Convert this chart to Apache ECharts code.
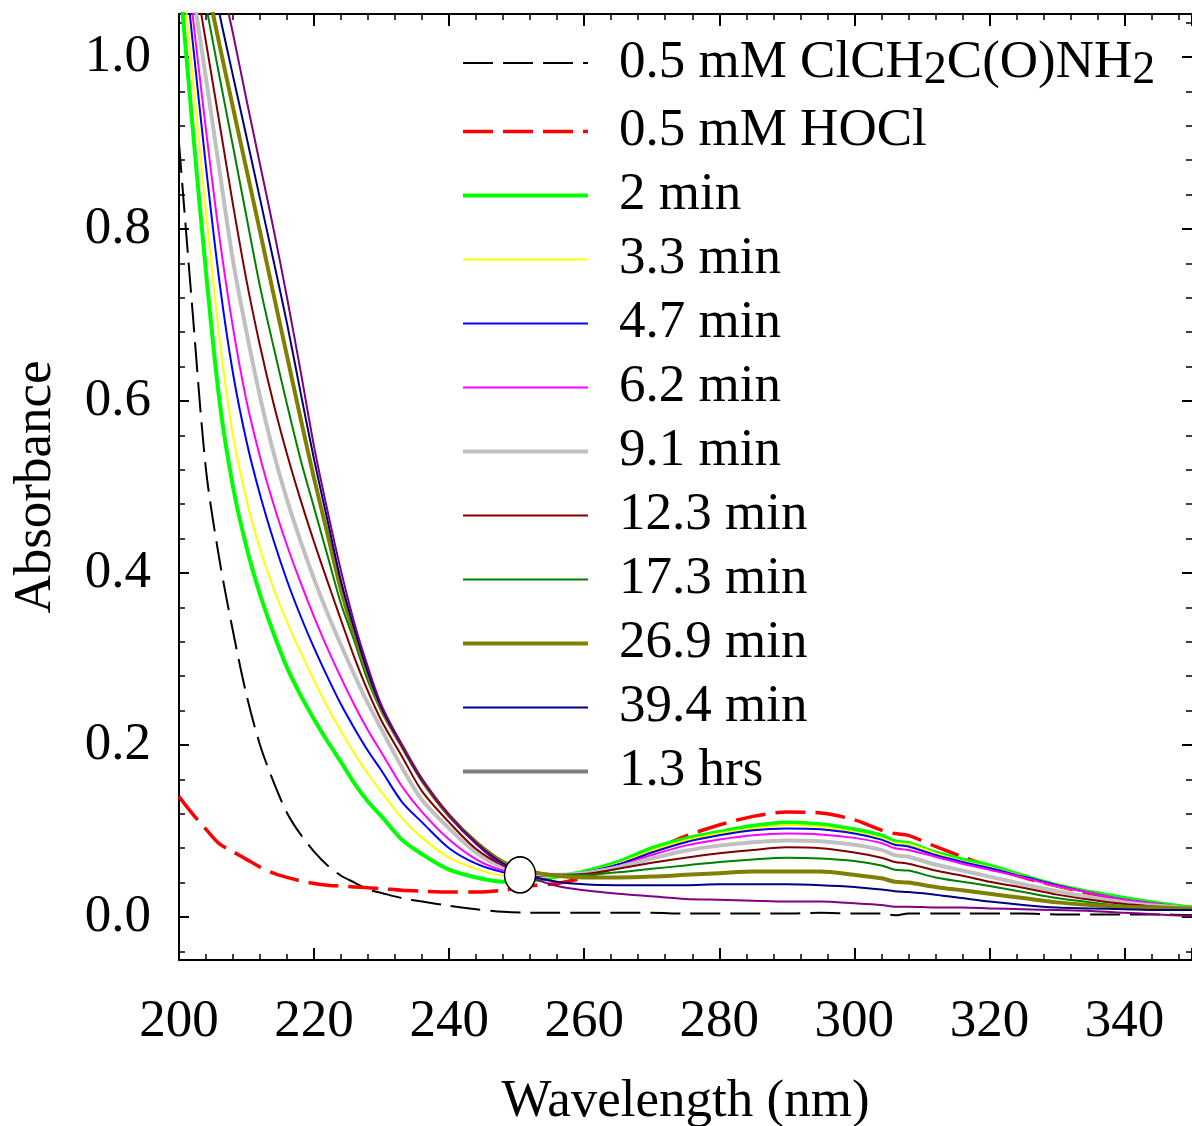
<!DOCTYPE html>
<html>
<head>
<meta charset="utf-8">
<script src="https://cdn.jsdelivr.net/npm/echarts@6/dist/echarts.min.js"></script>
<style>
html,body{margin:0;padding:0;background:#fff;}
#chart{width:1192px;height:1126px;}
</style>
</head>
<body>
<div id="chart"></div>
<script>
// ---------------- DATA ----------------
const wavelengths = [200,202,204,206,208,210,212,214,216,218,220,222,224,226,228,230,233,236,240,244,248,252,256,260,265,270,275,280,285,290,295,300,304,306,308,312,316,320,325,330,335,340,345,350];

const absChloroacetamide = [0.900,0.705,0.520,0.415,0.332,0.258,0.200,0.157,0.121,0.096,0.076,0.060,0.048,0.040,0.032,0.028,0.022,0.018,0.013,0.009,0.006,0.005,0.005,0.005,0.005,0.005,0.004,0.004,0.004,0.004,0.005,0.004,0.004,0.002,0.004,0.004,0.004,0.004,0.004,0.003,0.003,0.003,0.003,0.002];
const absHOCl = [0.140,0.120,0.102,0.085,0.076,0.067,0.058,0.051,0.046,0.042,0.039,0.037,0.036,0.035,0.034,0.033,0.031,0.030,0.029,0.029,0.031,0.036,0.039,0.046,0.059,0.077,0.094,0.107,0.117,0.122,0.121,0.113,0.101,0.097,0.095,0.082,0.070,0.059,0.046,0.036,0.027,0.020,0.015,0.011];
const abs2min = [1.10,0.92,0.75,0.60,0.50,0.43,0.375,0.33,0.29,0.258,0.230,0.204,0.180,0.155,0.134,0.117,0.090,0.073,0.055,0.046,0.041,0.042,0.047,0.053,0.064,0.080,0.091,0.099,0.106,0.110,0.108,0.102,0.095,0.088,0.086,0.075,0.067,0.060,0.048,0.037,0.029,0.022,0.016,0.011];
const abs3p3min = [1.14,0.98,0.82,0.672,0.560,0.485,0.428,0.382,0.343,0.308,0.275,0.244,0.216,0.190,0.166,0.145,0.115,0.092,0.069,0.056,0.048,0.046,0.048,0.052,0.062,0.077,0.089,0.097,0.103,0.107,0.105,0.099,0.092,0.086,0.085,0.074,0.065,0.058,0.047,0.036,0.028,0.020,0.015,0.010];
const abs4p7min = [1.17,1.02,0.872,0.738,0.632,0.553,0.491,0.438,0.391,0.350,0.313,0.279,0.247,0.219,0.193,0.170,0.134,0.110,0.080,0.062,0.052,0.048,0.048,0.052,0.061,0.075,0.087,0.095,0.101,0.103,0.102,0.097,0.090,0.084,0.082,0.072,0.064,0.057,0.047,0.037,0.028,0.020,0.015,0.010];
const abs6p2min = [1.19,1.05,0.915,0.790,0.685,0.600,0.535,0.480,0.432,0.389,0.349,0.312,0.278,0.246,0.217,0.191,0.152,0.122,0.090,0.067,0.054,0.049,0.048,0.051,0.059,0.072,0.083,0.090,0.095,0.097,0.096,0.092,0.086,0.080,0.078,0.070,0.062,0.055,0.046,0.036,0.028,0.020,0.015,0.010];
const abs9p1min = [1.18,1.08,0.975,0.868,0.763,0.680,0.605,0.540,0.485,0.437,0.393,0.353,0.316,0.281,0.248,0.218,0.174,0.136,0.103,0.075,0.058,0.051,0.049,0.051,0.058,0.068,0.077,0.083,0.087,0.089,0.088,0.084,0.078,0.072,0.070,0.061,0.054,0.047,0.038,0.030,0.023,0.017,0.013,0.010];
const abs12p3min = [1.20,1.11,1.017,0.923,0.828,0.740,0.664,0.597,0.538,0.485,0.436,0.390,0.345,0.301,0.262,0.228,0.187,0.146,0.110,0.079,0.060,0.052,0.049,0.050,0.056,0.063,0.069,0.074,0.078,0.081,0.080,0.075,0.069,0.064,0.062,0.054,0.048,0.041,0.034,0.026,0.020,0.015,0.012,0.009];
const abs17p3min = [1.22,1.14,1.06,0.977,0.896,0.814,0.733,0.663,0.596,0.532,0.476,0.420,0.364,0.320,0.274,0.239,0.198,0.158,0.117,0.086,0.064,0.053,0.049,0.049,0.052,0.056,0.060,0.064,0.067,0.069,0.068,0.065,0.060,0.055,0.054,0.046,0.041,0.036,0.029,0.022,0.017,0.013,0.011,0.009];
const abs26p9min = [1.25,1.17,1.09,1.014,0.941,0.869,0.797,0.724,0.652,0.580,0.510,0.445,0.380,0.328,0.282,0.241,0.199,0.159,0.118,0.087,0.064,0.053,0.048,0.046,0.046,0.047,0.049,0.051,0.053,0.053,0.053,0.049,0.045,0.041,0.040,0.035,0.031,0.027,0.022,0.017,0.014,0.012,0.011,0.010];
const abs39p4min = [1.28,1.21,1.13,1.05,0.978,0.907,0.835,0.763,0.690,0.610,0.532,0.461,0.390,0.334,0.284,0.243,0.199,0.159,0.118,0.086,0.062,0.048,0.041,0.038,0.037,0.037,0.037,0.038,0.038,0.038,0.037,0.035,0.032,0.030,0.029,0.026,0.022,0.018,0.014,0.011,0.010,0.009,0.008,0.008];
const abs1p3hrs = [1.33,1.255,1.18,1.10,1.027,0.95,0.875,0.80,0.72,0.635,0.547,0.472,0.402,0.341,0.290,0.246,0.200,0.160,0.118,0.085,0.060,0.046,0.036,0.031,0.027,0.024,0.021,0.020,0.019,0.018,0.018,0.016,0.014,0.012,0.012,0.011,0.011,0.010,0.009,0.008,0.007,0.005,0.003,0.001];

const seriesNames = ['0.5 mM ClCH2C(O)NH2','0.5 mM HOCl','2 min','3.3 min','4.7 min','6.2 min','9.1 min','12.3 min','17.3 min','26.9 min','39.4 min','1.3 hrs'];
const seriesValues = [absChloroacetamide, absHOCl, abs2min, abs3p3min, abs4p7min, abs6p2min, abs9p1min, abs12p3min, abs17p3min, abs26p9min, abs39p4min, abs1p3hrs];
const isosbesticPoint = [[250.5, 0.049]];

// ---------------- STYLE ----------------
const colors = ['#000000','#ff0000','#00ff00','#ffff00','#0000ff','#ff00ff','#c0c0c0','#800000','#008000','#808000','#000080','#800080'];
const widths = [2, 3.5, 4, 2, 2, 2, 4, 2, 2, 4, 2, 2];
const dashed = [true, true, false, false, false, false, false, false, false, false, false, false];
const FONT = '"Liberation Serif", "Times New Roman", serif';
const FS = 53;

const series = seriesNames.map((name, i) => ({
  name: name,
  type: 'line',
  data: wavelengths.map((w, k) => [w, seriesValues[i][k]]),
  symbol: 'none',
  showSymbol: false,
  smooth: 0.3,
  clip: true,
  lineStyle: { color: colors[i], width: widths[i], type: dashed[i] ? [30, 10] : 'solid' },
  itemStyle: { color: colors[i] },
  z: 2 + i,
  silent: true
}));
series.push({
  type: 'scatter',
  data: isosbesticPoint,
  symbol: 'circle',
  symbolSize: [31, 36],
  itemStyle: { color: '#ffffff', borderColor: '#000000', borderWidth: 1.5, opacity: 1 },
  z: 30,
  silent: true
});

const legendData = seriesNames.map((n, i) => {
  if (i === 0) {
    return { name: n, textStyle: { padding: [5, 0, 5, 26] } };
  }
  if (i === seriesNames.length - 1) {
    return { name: n, itemStyle: { color: '#808080', opacity: 0 }, lineStyle: { color: '#808080', width: 4 } };
  }
  return { name: n };
});

const majorY = v => Math.abs(v * 5 - Math.round(v * 5)) < 1e-6;

const tickAxisCommon = {
  minorTick: { show: true, splitNumber: 5, length: 6, lineStyle: { color: '#000', width: 1.5 } },
  splitLine: { show: false }
};

const option = {
  animation: false,
  backgroundColor: '#ffffff',
  grid: { left: 179, right: 0, top: 14, bottom: 166, containLabel: false, outerBoundsMode: 'none' },
  legend: {
    orient: 'vertical',
    left: 461,
    top: 32,
    padding: 0,
    itemWidth: 125,
    itemHeight: 20,
    itemGap: 11,
    selectedMode: false,
    data: legendData,
    itemStyle: { opacity: 0 },
    lineStyle: { width: 'inherit', type: 'inherit' },
    formatter: name => name === seriesNames[0]
      ? '{a|0.5 mM ClCH}{s|2}{a|C(O)NH}{s|2}'
      : '{a|' + name + '}',
    textStyle: {
      color: '#000',
      fontFamily: FONT,
      fontSize: FS,
      padding: [0, 0, 0, 26],
      rich: {
        a: { fontFamily: FONT, fontSize: FS, color: '#000', lineHeight: 60 },
        s: { fontFamily: FONT, fontSize: 46, color: '#000', lineHeight: 44, padding: [16, 0, 0, 0] }
      }
    }
  },
  xAxis: [
    Object.assign({}, tickAxisCommon, {
      type: 'value', min: 200, max: 350, interval: 20, position: 'bottom',
      axisLine: { show: true, onZero: false, lineStyle: { color: '#000', width: 2 } },
      axisTick: { show: true, inside: true, length: 12, lineStyle: { color: '#000', width: 2 } },
      axisLabel: {
        show: true, margin: 36, color: '#000', fontFamily: FONT, fontSize: FS,
        formatter: v => (Math.round(v) % 20 === 0 && v < 350) ? String(v) : ''
      },
      name: 'Wavelength (nm)', nameLocation: 'middle', nameGap: 116,
      nameTextStyle: { color: '#000', fontFamily: FONT, fontSize: FS }
    }),
    Object.assign({}, tickAxisCommon, {
      type: 'value', min: 200, max: 350, interval: 20, position: 'top',
      axisLine: { show: true, onZero: false, lineStyle: { color: '#000', width: 2 } },
      axisTick: { show: true, inside: true, length: 12, lineStyle: { color: '#000', width: 2 } },
      axisLabel: { show: false }
    })
  ],
  yAxis: [
    Object.assign({}, tickAxisCommon, {
      type: 'value', min: -0.05, max: 1.05, splitNumber: 5, minInterval: 0.2, maxInterval: 0.2, position: 'left',
      axisLine: { show: true, onZero: false, lineStyle: { color: '#000', width: 2 } },
      axisTick: { show: true, inside: true, length: 10, lineStyle: { color: '#000', width: 2 } },
      axisLabel: {
        show: true, margin: 28, color: '#000', fontFamily: FONT, fontSize: FS,
        formatter: v => majorY(v) ? v.toFixed(1) : ''
      },
      name: 'Absorbance', nameLocation: 'middle', nameGap: 116,
      nameTextStyle: { color: '#000', fontFamily: FONT, fontSize: FS }
    }),
    Object.assign({}, tickAxisCommon, {
      type: 'value', min: -0.05, max: 1.05, splitNumber: 5, minInterval: 0.2, maxInterval: 0.2, position: 'right',
      axisLine: { show: false, onZero: false },
      axisTick: { show: true, inside: true, length: 10, lineStyle: { color: '#000', width: 2 } },
      axisLabel: { show: false }
    })
  ],
  series: series
};

const chart = echarts.init(document.getElementById('chart'), null, { renderer: 'canvas' });
chart.setOption(option);
</script>
</body>
</html>
